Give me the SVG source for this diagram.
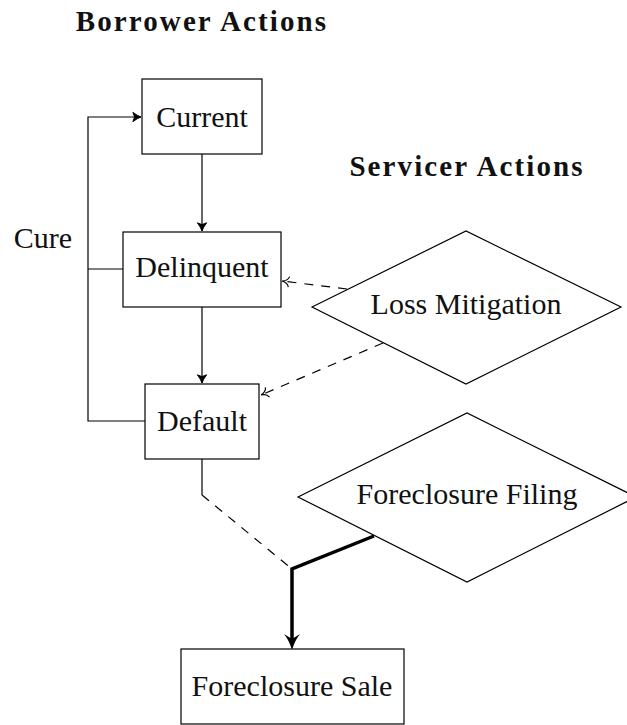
<svg xmlns="http://www.w3.org/2000/svg" width="627" height="725" viewBox="0 0 627 725">
<style>
.box{fill:#fff;stroke:#000;stroke-width:1.2}
.lbl{font-family:"Liberation Serif","Times New Roman",serif;font-size:30px;fill:#111;text-anchor:middle}
.ttl{font-family:"Liberation Serif","Times New Roman",serif;font-size:29px;font-weight:bold;fill:#111;text-anchor:middle;letter-spacing:2.1px}
.ln{fill:none;stroke:#000;stroke-width:1.2}
.dash{fill:none;stroke:#000;stroke-width:1.2;stroke-dasharray:9 8}
.thick{fill:none;stroke:#000;stroke-width:3.5}
</style>
<defs>
<marker id="arr" markerUnits="userSpaceOnUse" markerWidth="14" markerHeight="14" refX="0" refY="0" viewBox="-10 -6 12 12" orient="auto">
<path d="M-7,-4 Q-3,-1 0,0 Q-3,1 -7,4 L-5.5,0 Z" fill="#000" stroke="#000" stroke-width="0.8"/>
</marker>
<marker id="open" markerUnits="userSpaceOnUse" markerWidth="14" markerHeight="14" refX="0" refY="0" viewBox="-10 -6 12 12" orient="auto">
<path d="M-6,-4.5 Q-5,-0.8 0,0 Q-5,0.8 -6,4.5" fill="none" stroke="#000" stroke-width="1"/>
</marker>
</defs>

<text class="ttl" x="202" y="31">Borrower Actions</text>
<text class="ttl" x="467" y="176">Servicer Actions</text>
<text class="lbl" x="43" y="248">Cure</text>

<g id="connectors">
<line class="ln" x1="202" y1="154" x2="202" y2="231" marker-end="url(#arr)"/>
<line class="ln" x1="202" y1="307" x2="202" y2="383" marker-end="url(#arr)"/>
<polyline class="ln" points="145,421 88,421 88,117 141,117" marker-end="url(#arr)"/>
<line class="ln" x1="123" y1="269" x2="88" y2="269"/>
<line class="dash" x1="347" y1="289" x2="282" y2="281" marker-end="url(#open)"/>
<line class="dash" x1="383" y1="343" x2="261" y2="395" marker-end="url(#open)"/>
<line class="ln" x1="202" y1="459" x2="202" y2="495" stroke="#444"/>
<line class="dash" x1="202" y1="495" x2="292" y2="569"/>
<polyline class="thick" points="374,536 292,569 292,640"/>
<path d="M292,650 Q289,640 284,634 L292,639 L300,634 Q295,640 292,650 Z" fill="#000"/>
</g>

<g id="current">
<rect class="box" x="142" y="79" width="120" height="75"/>
<text class="lbl" x="202" y="127">Current</text>
</g>
<g id="delinquent">
<rect class="box" x="123" y="232" width="158" height="75"/>
<text class="lbl" x="202" y="277">Delinquent</text>
</g>
<g id="default">
<rect class="box" x="145" y="384" width="114" height="75"/>
<text class="lbl" x="202" y="431">Default</text>
</g>
<g id="loss-mitigation">
<polygon class="box" points="312,307 466,231 621,307 466,384"/>
<text class="lbl" x="466" y="314">Loss Mitigation</text>
</g>
<g id="foreclosure-filing">
<polygon class="box" points="298,497 467,413 636,497 467,582"/>
<text class="lbl" x="467" y="504">Foreclosure Filing</text>
</g>
<g id="foreclosure-sale">
<rect class="box" x="181" y="649" width="223" height="75"/>
<text class="lbl" x="292" y="696">Foreclosure Sale</text>
</g>
</svg>
